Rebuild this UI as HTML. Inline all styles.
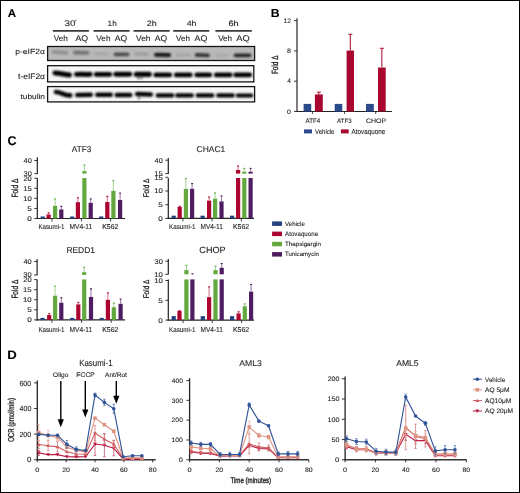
<!DOCTYPE html>
<html><head><meta charset="utf-8"><style>
html,body{margin:0;padding:0;background:#fff;overflow:hidden;width:520px;height:493px;}
svg{display:block;will-change:transform;}
text{font-family:"Liberation Sans", sans-serif;stroke:#1e1e1e;stroke-width:0.1px;text-rendering:geometricPrecision;}
</style></head><body>
<svg width="520" height="493" viewBox="0 0 520 493">
<rect x="0.5" y="0.5" width="519" height="492" fill="#fff" stroke="#000" stroke-width="1"/>
<text transform="translate(7.81,16.50) scale(1.030,1)" font-size="11.16" fill="#000" font-weight="bold">A</text>
<text transform="translate(270.80,16.80) scale(1.060,1)" font-size="11.59" fill="#000" font-weight="bold">B</text>
<text transform="translate(7.40,145.07) scale(0.988,1)" font-size="12.68" fill="#000" font-weight="bold">C</text>
<text transform="translate(7.14,358.80) scale(1.082,1)" font-size="12.17" fill="#000" font-weight="bold">D</text>
<text transform="translate(64.51,25.60) scale(1.183,1)" font-size="8.29" fill="#1e1e1e">30</text>
<path d="M76.1,19.7 L75.6,21.3" stroke="#555" stroke-width="0.9"/>
<text transform="translate(107.58,25.60) scale(1.068,1)" font-size="7.72" fill="#1e1e1e">1h</text>
<text transform="translate(146.75,25.60) scale(1.171,1)" font-size="7.72" fill="#1e1e1e">2h</text>
<text transform="translate(186.68,25.60) scale(1.142,1)" font-size="7.72" fill="#1e1e1e">4h</text>
<text transform="translate(228.44,25.60) scale(1.197,1)" font-size="7.72" fill="#1e1e1e">6h</text>
<line x1="52.90" y1="30.85" x2="88.90" y2="30.85" stroke="#3a3a3a" stroke-width="1.6" />
<line x1="93.50" y1="30.85" x2="129.60" y2="30.85" stroke="#3a3a3a" stroke-width="1.6" />
<line x1="133.50" y1="30.85" x2="169.60" y2="30.85" stroke="#3a3a3a" stroke-width="1.6" />
<line x1="173.20" y1="30.85" x2="209.30" y2="30.85" stroke="#3a3a3a" stroke-width="1.6" />
<line x1="215.40" y1="30.85" x2="251.80" y2="30.85" stroke="#3a3a3a" stroke-width="1.6" />
<text transform="translate(53.76,41.20) scale(1.038,1)" font-size="7.86" fill="#1e1e1e">Veh</text>
<text transform="translate(96.36,41.20) scale(1.038,1)" font-size="7.86" fill="#1e1e1e">Veh</text>
<text transform="translate(136.06,41.20) scale(1.061,1)" font-size="7.86" fill="#1e1e1e">Veh</text>
<text transform="translate(176.06,41.20) scale(1.022,1)" font-size="7.86" fill="#1e1e1e">Veh</text>
<text transform="translate(218.16,41.20) scale(1.030,1)" font-size="7.86" fill="#1e1e1e">Veh</text>
<text transform="translate(75.46,41.20) scale(1.078,1)" font-size="8.14" fill="#1e1e1e">AQ</text>
<text transform="translate(114.86,41.20) scale(1.060,1)" font-size="8.14" fill="#1e1e1e">AQ</text>
<text transform="translate(154.86,41.20) scale(1.060,1)" font-size="8.14" fill="#1e1e1e">AQ</text>
<text transform="translate(194.56,41.20) scale(1.087,1)" font-size="8.14" fill="#1e1e1e">AQ</text>
<text transform="translate(236.35,41.20) scale(1.149,1)" font-size="8.14" fill="#1e1e1e">AQ</text>
<text transform="translate(15.25,54.30) scale(1.127,1)" font-size="7.57" fill="#1e1e1e">p-eIF2α</text>
<text transform="translate(18.07,78.80) scale(1.072,1)" font-size="7.86" fill="#1e1e1e">t-eIF2α</text>
<text transform="translate(20.47,98.90) scale(1.141,1)" font-size="7.31" fill="#1e1e1e">tubulin</text>
<defs><filter id="bl" filterUnits="userSpaceOnUse" x="0" y="0" width="520" height="493"><feGaussianBlur stdDeviation="0.85"/></filter><filter id="bl2" filterUnits="userSpaceOnUse" x="0" y="0" width="520" height="493"><feGaussianBlur stdDeviation="1.05"/></filter></defs>
<rect x="47.60" y="46.50" width="207.00" height="14.00" fill="#b9b9b9" stroke="#141414" stroke-width="1.3"/>
<rect x="47.60" y="65.70" width="206.20" height="16.20" fill="#f6f6f6" stroke="#141414" stroke-width="1.3"/>
<rect x="47.60" y="86.60" width="207.00" height="15.30" fill="#f6f6f6" stroke="#141414" stroke-width="1.3"/>
<path d="M53.50,52.00 L66.50,52.80" stroke="#8e8e8e" stroke-width="3.6" stroke-linecap="round" fill="none" filter="url(#bl2)"/>
<path d="M75.00,52.50 L87.50,52.80" stroke="#727272" stroke-width="3.8" stroke-linecap="round" fill="none" filter="url(#bl2)"/>
<path d="M96.00,53.60 L107.00,53.80" stroke="#a6a6a6" stroke-width="3.2" stroke-linecap="round" fill="none" filter="url(#bl2)"/>
<path d="M115.50,54.30 L127.50,54.30" stroke="#4c4c4c" stroke-width="3.8" stroke-linecap="round" fill="none" filter="url(#bl2)"/>
<path d="M136.00,54.00 L147.00,54.20" stroke="#9e9e9e" stroke-width="3.4" stroke-linecap="round" fill="none" filter="url(#bl2)"/>
<path d="M156.00,54.80 L169.00,54.90" stroke="#121212" stroke-width="4.0" stroke-linecap="round" fill="none" filter="url(#bl2)"/>
<path d="M177.50,55.00 L189.50,55.00" stroke="#a4a4a4" stroke-width="3.2" stroke-linecap="round" fill="none" filter="url(#bl2)"/>
<path d="M196.50,54.80 L208.00,55.30" stroke="#343434" stroke-width="3.8" stroke-linecap="round" fill="none" filter="url(#bl2)"/>
<path d="M216.50,55.20 L227.50,55.20" stroke="#a8a8a8" stroke-width="3.0" stroke-linecap="round" fill="none" filter="url(#bl2)"/>
<path d="M235.50,55.40 L249.50,55.40" stroke="#282828" stroke-width="3.6" stroke-linecap="round" fill="none" filter="url(#bl2)"/>
<path d="M55.0,73.0 C60,72.8 63,75.0 69.4,74.9" stroke="#050505" stroke-width="5.1" stroke-linecap="round" fill="none" filter="url(#bl)"/>
<path d="M76.4,74.4 C81,73.8 85,74.8 90.1,74.3" stroke="#050505" stroke-width="4.9" stroke-linecap="round" fill="none" filter="url(#bl)"/>
<path d="M96.20,74.40 L109.80,74.40" stroke="#050505" stroke-width="4.8999999999999995" stroke-linecap="round" fill="none" filter="url(#bl)"/>
<path d="M115.70,74.30 L129.80,74.30" stroke="#050505" stroke-width="4.8999999999999995" stroke-linecap="round" fill="none" filter="url(#bl)"/>
<path d="M136.20,74.20 L149.30,74.40" stroke="#050505" stroke-width="5.1" stroke-linecap="round" fill="none" filter="url(#bl)"/>
<path d="M155.70,74.90 L169.80,74.90" stroke="#050505" stroke-width="4.7" stroke-linecap="round" fill="none" filter="url(#bl)"/>
<path d="M176.20,74.90 L190.30,74.90" stroke="#050505" stroke-width="4.7" stroke-linecap="round" fill="none" filter="url(#bl)"/>
<path d="M196.70,74.90 L209.80,74.90" stroke="#050505" stroke-width="4.7" stroke-linecap="round" fill="none" filter="url(#bl)"/>
<path d="M216.20,74.90 L230.30,74.90" stroke="#050505" stroke-width="4.7" stroke-linecap="round" fill="none" filter="url(#bl)"/>
<path d="M235.70,74.90 L249.80,74.90" stroke="#050505" stroke-width="4.7" stroke-linecap="round" fill="none" filter="url(#bl)"/>
<path d="M56.0,92.0 C61,92.0 64,95.6 70.3,95.4" stroke="#050505" stroke-width="4.6" stroke-linecap="round" fill="none" filter="url(#bl)"/>
<path d="M77.20,95.00 L90.80,94.80" stroke="#050505" stroke-width="4.4" stroke-linecap="round" fill="none" filter="url(#bl)"/>
<path d="M97.20,94.80 L110.80,94.80" stroke="#050505" stroke-width="4.4" stroke-linecap="round" fill="none" filter="url(#bl)"/>
<path d="M116.70,95.00 L130.30,95.00" stroke="#050505" stroke-width="4.4" stroke-linecap="round" fill="none" filter="url(#bl)"/>
<path d="M137.20,94.00 L150.80,94.50" stroke="#050505" stroke-width="4.6000000000000005" stroke-linecap="round" fill="none" filter="url(#bl)"/>
<path d="M157.70,95.40 L172.30,95.40" stroke="#050505" stroke-width="4.2" stroke-linecap="round" fill="none" filter="url(#bl)"/>
<path d="M177.20,95.40 L191.80,95.40" stroke="#050505" stroke-width="4.2" stroke-linecap="round" fill="none" filter="url(#bl)"/>
<path d="M197.70,95.40 L212.30,95.40" stroke="#050505" stroke-width="4.2" stroke-linecap="round" fill="none" filter="url(#bl)"/>
<path d="M218.20,95.40 L232.80,95.40" stroke="#050505" stroke-width="4.2" stroke-linecap="round" fill="none" filter="url(#bl)"/>
<path d="M237.70,95.40 L251.30,95.40" stroke="#050505" stroke-width="4.0" stroke-linecap="round" fill="none" filter="url(#bl)"/>
<path d="M138.5,75 l0,4.5 M141.5,75 l0,4 M139,95 l0,4.5" stroke="#222" stroke-width="1.1" filter="url(#bl)"/>
<line x1="297.00" y1="18.20" x2="297.00" y2="111.95" stroke="#383838" stroke-width="1.3" />
<line x1="296.40" y1="111.45" x2="392.00" y2="111.45" stroke="#222" stroke-width="1.1" />
<line x1="294.00" y1="111.45" x2="297.00" y2="111.45" stroke="#333" stroke-width="1.0" />
<text transform="translate(287.12,113.70) scale(1.081,1)" font-size="6.43" fill="#1e1e1e">0</text>
<line x1="294.00" y1="81.19" x2="297.00" y2="81.19" stroke="#333" stroke-width="1.0" />
<text transform="translate(287.23,83.44) scale(1.012,1)" font-size="6.52" fill="#1e1e1e">4</text>
<line x1="294.00" y1="50.93" x2="297.00" y2="50.93" stroke="#333" stroke-width="1.0" />
<text transform="translate(287.08,53.18) scale(1.092,1)" font-size="6.43" fill="#1e1e1e">8</text>
<line x1="294.00" y1="20.67" x2="297.00" y2="20.67" stroke="#333" stroke-width="1.0" />
<text transform="translate(283.60,22.92) scale(1.042,1)" font-size="6.43" fill="#1e1e1e">12</text>
<text transform="translate(277.90,74.11) rotate(-90) scale(0.717,1)" font-size="8.97" fill="#1e1e1e" style="stroke-width:0.3px">Fold Δ</text>
<rect x="303.60" y="103.89" width="7.60" height="7.57" fill="#2b4a8c" />
<rect x="314.90" y="94.43" width="7.90" height="17.02" fill="#a8072f" />
<line x1="318.85" y1="94.43" x2="318.85" y2="92.16" stroke="#a8072f" stroke-width="1.0" />
<line x1="316.85" y1="92.16" x2="320.85" y2="92.16" stroke="#a8072f" stroke-width="1.0" />
<rect x="334.70" y="103.89" width="7.60" height="7.57" fill="#2b4a8c" />
<rect x="346.60" y="50.55" width="7.40" height="60.90" fill="#a8072f" />
<line x1="350.30" y1="50.55" x2="350.30" y2="34.29" stroke="#a8072f" stroke-width="1.0" />
<line x1="348.30" y1="34.29" x2="352.30" y2="34.29" stroke="#a8072f" stroke-width="1.0" />
<rect x="366.00" y="103.89" width="7.80" height="7.57" fill="#2b4a8c" />
<rect x="378.00" y="67.57" width="7.70" height="43.88" fill="#a8072f" />
<line x1="381.85" y1="67.57" x2="381.85" y2="48.28" stroke="#a8072f" stroke-width="1.0" />
<line x1="379.85" y1="48.28" x2="383.85" y2="48.28" stroke="#a8072f" stroke-width="1.0" />
<line x1="312.60" y1="111.45" x2="312.60" y2="113.95" stroke="#333" stroke-width="0.9" />
<line x1="344.60" y1="111.45" x2="344.60" y2="113.95" stroke="#333" stroke-width="0.9" />
<line x1="375.70" y1="111.45" x2="375.70" y2="113.95" stroke="#333" stroke-width="0.9" />
<text transform="translate(305.57,123.10) scale(0.960,1)" font-size="6.38" fill="#1e1e1e">ATF4</text>
<text transform="translate(336.97,123.10) scale(0.981,1)" font-size="6.29" fill="#1e1e1e">ATF3</text>
<text transform="translate(365.95,123.14) scale(1.075,1)" font-size="6.48" fill="#1e1e1e">CHOP</text>
<rect x="304.00" y="129.40" width="8.00" height="4.00" fill="#2b4a8c" />
<text transform="translate(314.97,133.50) scale(0.877,1)" font-size="6.90" fill="#1e1e1e">Vehicle</text>
<rect x="340.90" y="129.40" width="7.80" height="4.00" fill="#a8072f" />
<text transform="translate(351.57,133.50) scale(0.867,1)" font-size="7.25" fill="#1e1e1e">Atovaquone</text>
<text transform="translate(71.76,151.80) scale(0.977,1)" font-size="8.43" fill="#1e1e1e">ATF3</text>
<line x1="37.30" y1="178.10" x2="37.30" y2="219.00" stroke="#222" stroke-width="1.2" />
<line x1="37.30" y1="157.30" x2="37.30" y2="173.90" stroke="#222" stroke-width="1.2" />
<line x1="34.30" y1="218.50" x2="37.30" y2="218.50" stroke="#222" stroke-width="0.9" />
<text transform="translate(27.33,220.90) scale(1.182,1)" font-size="6.86" fill="#1e1e1e">0</text>
<line x1="34.30" y1="208.43" x2="37.30" y2="208.43" stroke="#222" stroke-width="0.9" />
<text transform="translate(27.33,210.83) scale(1.165,1)" font-size="6.96" fill="#1e1e1e">5</text>
<line x1="34.30" y1="198.35" x2="37.30" y2="198.35" stroke="#222" stroke-width="0.9" />
<text transform="translate(23.22,200.75) scale(1.129,1)" font-size="6.86" fill="#1e1e1e">10</text>
<line x1="34.30" y1="188.28" x2="37.30" y2="188.28" stroke="#222" stroke-width="0.9" />
<text transform="translate(23.22,190.68) scale(1.112,1)" font-size="6.96" fill="#1e1e1e">15</text>
<line x1="34.30" y1="178.20" x2="37.30" y2="178.20" stroke="#222" stroke-width="0.9" />
<text transform="translate(23.42,180.60) scale(1.101,1)" font-size="6.86" fill="#1e1e1e">20</text>
<line x1="34.30" y1="160.50" x2="37.30" y2="160.50" stroke="#222" stroke-width="0.9" />
<text transform="translate(23.62,162.90) scale(1.075,1)" font-size="6.86" fill="#1e1e1e">40</text>
<line x1="34.30" y1="173.70" x2="37.30" y2="173.70" stroke="#222" stroke-width="0.9" />
<text transform="translate(23.50,176.10) scale(1.090,1)" font-size="6.86" fill="#1e1e1e">30</text>
<line x1="36.70" y1="218.50" x2="125.00" y2="218.50" stroke="#222" stroke-width="1.2" />
<rect x="40.60" y="216.49" width="4.20" height="2.02" fill="#23417f" />
<rect x="46.50" y="214.47" width="4.20" height="4.03" fill="#ab0530" />
<line x1="48.60" y1="214.47" x2="48.60" y2="212.86" stroke="#d35c7a" stroke-width="0.9" />
<line x1="47.60" y1="212.86" x2="49.60" y2="212.86" stroke="#ab0530" stroke-width="1.1" />
<rect x="53.00" y="205.81" width="4.20" height="12.69" fill="#63a83e" />
<line x1="55.10" y1="205.81" x2="55.10" y2="198.95" stroke="#9ccf88" stroke-width="0.9" />
<line x1="54.10" y1="198.95" x2="56.10" y2="198.95" stroke="#63a83e" stroke-width="1.1" />
<rect x="59.20" y="209.43" width="4.20" height="9.07" fill="#4d1d60" />
<line x1="61.30" y1="209.43" x2="61.30" y2="206.41" stroke="#8a6296" stroke-width="0.9" />
<line x1="60.30" y1="206.41" x2="62.30" y2="206.41" stroke="#4d1d60" stroke-width="1.1" />
<rect x="70.10" y="216.49" width="4.20" height="2.02" fill="#23417f" />
<rect x="75.80" y="202.18" width="4.20" height="16.32" fill="#ab0530" />
<line x1="77.90" y1="202.18" x2="77.90" y2="197.75" stroke="#d35c7a" stroke-width="0.9" />
<line x1="76.90" y1="197.75" x2="78.90" y2="197.75" stroke="#ab0530" stroke-width="1.1" />
<rect x="82.30" y="178.10" width="4.20" height="40.40" fill="#63a83e" />
<rect x="82.30" y="171.10" width="4.20" height="2.50" fill="#63a83e" />
<line x1="84.40" y1="171.10" x2="84.40" y2="165.00" stroke="#9ccf88" stroke-width="0.9" />
<line x1="83.40" y1="165.00" x2="85.40" y2="165.00" stroke="#63a83e" stroke-width="1.1" />
<rect x="88.60" y="202.78" width="4.20" height="15.72" fill="#4d1d60" />
<line x1="90.70" y1="202.78" x2="90.70" y2="198.95" stroke="#8a6296" stroke-width="0.9" />
<line x1="89.70" y1="198.95" x2="91.70" y2="198.95" stroke="#4d1d60" stroke-width="1.1" />
<rect x="99.10" y="216.49" width="4.20" height="2.02" fill="#23417f" />
<rect x="105.20" y="201.98" width="4.20" height="16.52" fill="#ab0530" />
<line x1="107.30" y1="201.98" x2="107.30" y2="196.34" stroke="#d35c7a" stroke-width="0.9" />
<line x1="106.30" y1="196.34" x2="108.30" y2="196.34" stroke="#ab0530" stroke-width="1.1" />
<rect x="111.30" y="190.89" width="4.20" height="27.61" fill="#63a83e" />
<line x1="113.40" y1="190.89" x2="113.40" y2="180.62" stroke="#9ccf88" stroke-width="0.9" />
<line x1="112.40" y1="180.62" x2="114.40" y2="180.62" stroke="#63a83e" stroke-width="1.1" />
<rect x="118.00" y="199.96" width="4.20" height="18.54" fill="#4d1d60" />
<line x1="120.10" y1="199.96" x2="120.10" y2="193.11" stroke="#8a6296" stroke-width="0.9" />
<line x1="119.10" y1="193.11" x2="121.10" y2="193.11" stroke="#4d1d60" stroke-width="1.1" />
<line x1="52.00" y1="218.50" x2="52.00" y2="221.50" stroke="#333" stroke-width="0.9" />
<line x1="81.45" y1="218.50" x2="81.45" y2="221.50" stroke="#333" stroke-width="0.9" />
<line x1="110.65" y1="218.50" x2="110.65" y2="221.50" stroke="#333" stroke-width="0.9" />
<text transform="translate(38.40,228.80) scale(0.899,1)" font-size="6.90" fill="#1e1e1e">Kasumi-1</text>
<text transform="translate(69.47,228.80) scale(0.917,1)" font-size="7.25" fill="#1e1e1e">MV4-11</text>
<text transform="translate(102.14,228.80) scale(0.978,1)" font-size="7.14" fill="#1e1e1e">K562</text>
<text transform="translate(18.20,197.52) rotate(-90) scale(0.718,1)" font-size="9.10" fill="#1e1e1e" style="stroke-width:0.3px">Fold Δ</text>
<text transform="translate(196.58,152.00) scale(1.006,1)" font-size="8.43" fill="#1e1e1e">CHAC1</text>
<line x1="168.30" y1="178.00" x2="168.30" y2="218.90" stroke="#222" stroke-width="1.2" />
<line x1="168.30" y1="158.10" x2="168.30" y2="173.90" stroke="#222" stroke-width="1.2" />
<line x1="165.30" y1="218.40" x2="168.30" y2="218.40" stroke="#222" stroke-width="0.9" />
<text transform="translate(158.33,220.80) scale(1.182,1)" font-size="6.86" fill="#1e1e1e">0</text>
<line x1="165.30" y1="204.70" x2="168.30" y2="204.70" stroke="#222" stroke-width="0.9" />
<text transform="translate(158.33,207.10) scale(1.165,1)" font-size="6.96" fill="#1e1e1e">5</text>
<line x1="165.30" y1="191.00" x2="168.30" y2="191.00" stroke="#222" stroke-width="0.9" />
<text transform="translate(154.22,193.40) scale(1.129,1)" font-size="6.86" fill="#1e1e1e">10</text>
<line x1="165.30" y1="177.30" x2="168.30" y2="177.30" stroke="#222" stroke-width="0.9" />
<text transform="translate(154.22,179.70) scale(1.112,1)" font-size="6.96" fill="#1e1e1e">15</text>
<line x1="165.30" y1="160.20" x2="168.30" y2="160.20" stroke="#222" stroke-width="0.9" />
<text transform="translate(154.62,162.60) scale(1.075,1)" font-size="6.86" fill="#1e1e1e">40</text>
<line x1="165.30" y1="173.60" x2="168.30" y2="173.60" stroke="#222" stroke-width="0.9" />
<text transform="translate(154.22,176.00) scale(1.112,1)" font-size="6.96" fill="#1e1e1e">15</text>
<line x1="167.70" y1="218.40" x2="254.00" y2="218.40" stroke="#222" stroke-width="1.2" />
<rect x="171.60" y="215.66" width="4.20" height="2.74" fill="#23417f" />
<rect x="177.60" y="206.89" width="4.20" height="11.51" fill="#ab0530" />
<line x1="179.70" y1="206.89" x2="179.70" y2="206.34" stroke="#d35c7a" stroke-width="0.9" />
<line x1="178.70" y1="206.34" x2="180.70" y2="206.34" stroke="#ab0530" stroke-width="1.1" />
<rect x="183.80" y="188.81" width="4.20" height="29.59" fill="#63a83e" />
<line x1="185.90" y1="188.81" x2="185.90" y2="178.67" stroke="#9ccf88" stroke-width="0.9" />
<line x1="184.90" y1="178.67" x2="186.90" y2="178.67" stroke="#63a83e" stroke-width="1.1" />
<rect x="190.00" y="188.81" width="4.20" height="29.59" fill="#4d1d60" />
<line x1="192.10" y1="188.81" x2="192.10" y2="183.60" stroke="#8a6296" stroke-width="0.9" />
<line x1="191.10" y1="183.60" x2="193.10" y2="183.60" stroke="#4d1d60" stroke-width="1.1" />
<rect x="200.50" y="215.66" width="4.20" height="2.74" fill="#23417f" />
<rect x="207.00" y="200.59" width="4.20" height="17.81" fill="#ab0530" />
<line x1="209.10" y1="200.59" x2="209.10" y2="197.03" stroke="#d35c7a" stroke-width="0.9" />
<line x1="208.10" y1="197.03" x2="210.10" y2="197.03" stroke="#ab0530" stroke-width="1.1" />
<rect x="213.00" y="198.67" width="4.20" height="19.73" fill="#63a83e" />
<line x1="215.10" y1="198.67" x2="215.10" y2="192.92" stroke="#9ccf88" stroke-width="0.9" />
<line x1="214.10" y1="192.92" x2="216.10" y2="192.92" stroke="#63a83e" stroke-width="1.1" />
<rect x="219.40" y="201.41" width="4.20" height="16.99" fill="#4d1d60" />
<line x1="221.50" y1="201.41" x2="221.50" y2="195.93" stroke="#8a6296" stroke-width="0.9" />
<line x1="220.50" y1="195.93" x2="222.50" y2="195.93" stroke="#4d1d60" stroke-width="1.1" />
<rect x="230.00" y="215.66" width="4.20" height="2.74" fill="#23417f" />
<rect x="236.00" y="178.00" width="4.20" height="40.40" fill="#ab0530" />
<rect x="236.00" y="170.00" width="4.20" height="3.60" fill="#ab0530" />
<line x1="238.10" y1="170.00" x2="238.10" y2="166.00" stroke="#d35c7a" stroke-width="0.9" />
<line x1="237.10" y1="166.00" x2="239.10" y2="166.00" stroke="#ab0530" stroke-width="1.1" />
<rect x="242.20" y="178.00" width="4.20" height="40.40" fill="#63a83e" />
<rect x="242.20" y="171.70" width="4.20" height="1.90" fill="#63a83e" />
<line x1="244.30" y1="171.70" x2="244.30" y2="168.40" stroke="#9ccf88" stroke-width="0.9" />
<line x1="243.30" y1="168.40" x2="245.30" y2="168.40" stroke="#63a83e" stroke-width="1.1" />
<rect x="248.50" y="178.00" width="4.20" height="40.40" fill="#4d1d60" />
<rect x="248.50" y="171.70" width="4.20" height="1.90" fill="#4d1d60" />
<line x1="250.60" y1="171.70" x2="250.60" y2="168.40" stroke="#8a6296" stroke-width="0.9" />
<line x1="249.60" y1="168.40" x2="251.60" y2="168.40" stroke="#4d1d60" stroke-width="1.1" />
<line x1="182.90" y1="218.40" x2="182.90" y2="221.40" stroke="#333" stroke-width="0.9" />
<line x1="212.05" y1="218.40" x2="212.05" y2="221.40" stroke="#333" stroke-width="0.9" />
<line x1="241.35" y1="218.40" x2="241.35" y2="221.40" stroke="#333" stroke-width="0.9" />
<text transform="translate(169.10,228.80) scale(0.906,1)" font-size="6.90" fill="#1e1e1e">Kasumi-1</text>
<text transform="translate(200.48,228.80) scale(0.900,1)" font-size="7.25" fill="#1e1e1e">MV4-11</text>
<text transform="translate(232.94,228.80) scale(0.971,1)" font-size="7.14" fill="#1e1e1e">K562</text>
<text transform="translate(149.40,197.32) rotate(-90) scale(0.781,1)" font-size="8.28" fill="#1e1e1e" style="stroke-width:0.3px">Fold Δ</text>
<text transform="translate(66.43,252.70) scale(0.983,1)" font-size="8.55" fill="#1e1e1e">REDD1</text>
<line x1="37.10" y1="279.50" x2="37.10" y2="320.40" stroke="#222" stroke-width="1.2" />
<line x1="37.10" y1="259.10" x2="37.10" y2="275.20" stroke="#222" stroke-width="1.2" />
<line x1="34.10" y1="319.90" x2="37.10" y2="319.90" stroke="#222" stroke-width="0.9" />
<text transform="translate(27.13,322.30) scale(1.182,1)" font-size="6.86" fill="#1e1e1e">0</text>
<line x1="34.10" y1="309.82" x2="37.10" y2="309.82" stroke="#222" stroke-width="0.9" />
<text transform="translate(27.13,312.22) scale(1.165,1)" font-size="6.96" fill="#1e1e1e">5</text>
<line x1="34.10" y1="299.75" x2="37.10" y2="299.75" stroke="#222" stroke-width="0.9" />
<text transform="translate(23.02,302.15) scale(1.129,1)" font-size="6.86" fill="#1e1e1e">10</text>
<line x1="34.10" y1="289.67" x2="37.10" y2="289.67" stroke="#222" stroke-width="0.9" />
<text transform="translate(23.02,292.07) scale(1.112,1)" font-size="6.96" fill="#1e1e1e">15</text>
<line x1="34.10" y1="279.60" x2="37.10" y2="279.60" stroke="#222" stroke-width="0.9" />
<text transform="translate(23.22,282.00) scale(1.101,1)" font-size="6.86" fill="#1e1e1e">20</text>
<line x1="34.10" y1="261.50" x2="37.10" y2="261.50" stroke="#222" stroke-width="0.9" />
<text transform="translate(23.42,263.90) scale(1.075,1)" font-size="6.86" fill="#1e1e1e">40</text>
<line x1="34.10" y1="275.00" x2="37.10" y2="275.00" stroke="#222" stroke-width="0.9" />
<text transform="translate(23.30,277.40) scale(1.090,1)" font-size="6.86" fill="#1e1e1e">30</text>
<line x1="36.50" y1="319.90" x2="125.00" y2="319.90" stroke="#222" stroke-width="1.2" />
<rect x="40.40" y="317.88" width="4.20" height="2.02" fill="#23417f" />
<rect x="47.10" y="315.06" width="4.20" height="4.84" fill="#ab0530" />
<line x1="49.20" y1="315.06" x2="49.20" y2="313.65" stroke="#d35c7a" stroke-width="0.9" />
<line x1="48.20" y1="313.65" x2="50.20" y2="313.65" stroke="#ab0530" stroke-width="1.1" />
<rect x="53.00" y="295.72" width="4.20" height="24.18" fill="#63a83e" />
<line x1="55.10" y1="295.72" x2="55.10" y2="286.25" stroke="#9ccf88" stroke-width="0.9" />
<line x1="54.10" y1="286.25" x2="56.10" y2="286.25" stroke="#63a83e" stroke-width="1.1" />
<rect x="59.20" y="302.77" width="4.20" height="17.13" fill="#4d1d60" />
<line x1="61.30" y1="302.77" x2="61.30" y2="297.73" stroke="#8a6296" stroke-width="0.9" />
<line x1="60.30" y1="297.73" x2="62.30" y2="297.73" stroke="#4d1d60" stroke-width="1.1" />
<rect x="70.00" y="317.88" width="4.20" height="2.02" fill="#23417f" />
<rect x="76.20" y="304.38" width="4.20" height="15.52" fill="#ab0530" />
<line x1="78.30" y1="304.38" x2="78.30" y2="302.37" stroke="#d35c7a" stroke-width="0.9" />
<line x1="77.30" y1="302.37" x2="79.30" y2="302.37" stroke="#ab0530" stroke-width="1.1" />
<rect x="82.10" y="279.50" width="4.20" height="40.40" fill="#63a83e" />
<rect x="82.10" y="272.20" width="4.20" height="2.70" fill="#63a83e" />
<line x1="84.20" y1="272.20" x2="84.20" y2="267.30" stroke="#9ccf88" stroke-width="0.9" />
<line x1="83.20" y1="267.30" x2="85.20" y2="267.30" stroke="#63a83e" stroke-width="1.1" />
<rect x="88.90" y="296.93" width="4.20" height="22.97" fill="#4d1d60" />
<line x1="91.00" y1="296.93" x2="91.00" y2="288.87" stroke="#8a6296" stroke-width="0.9" />
<line x1="90.00" y1="288.87" x2="92.00" y2="288.87" stroke="#4d1d60" stroke-width="1.1" />
<rect x="99.60" y="317.88" width="4.20" height="2.02" fill="#23417f" />
<rect x="105.80" y="299.75" width="4.20" height="20.15" fill="#ab0530" />
<line x1="107.90" y1="299.75" x2="107.90" y2="292.90" stroke="#d35c7a" stroke-width="0.9" />
<line x1="106.90" y1="292.90" x2="108.90" y2="292.90" stroke="#ab0530" stroke-width="1.1" />
<rect x="111.70" y="307.21" width="4.20" height="12.69" fill="#63a83e" />
<line x1="113.80" y1="307.21" x2="113.80" y2="303.18" stroke="#9ccf88" stroke-width="0.9" />
<line x1="112.80" y1="303.18" x2="114.80" y2="303.18" stroke="#63a83e" stroke-width="1.1" />
<rect x="118.50" y="303.78" width="4.20" height="16.12" fill="#4d1d60" />
<line x1="120.60" y1="303.78" x2="120.60" y2="299.15" stroke="#8a6296" stroke-width="0.9" />
<line x1="119.60" y1="299.15" x2="121.60" y2="299.15" stroke="#4d1d60" stroke-width="1.1" />
<line x1="51.90" y1="319.90" x2="51.90" y2="322.90" stroke="#333" stroke-width="0.9" />
<line x1="81.55" y1="319.90" x2="81.55" y2="322.90" stroke="#333" stroke-width="0.9" />
<line x1="111.15" y1="319.90" x2="111.15" y2="322.90" stroke="#333" stroke-width="0.9" />
<text transform="translate(38.40,332.20) scale(0.899,1)" font-size="6.90" fill="#1e1e1e">Kasumi-1</text>
<text transform="translate(69.47,332.20) scale(0.917,1)" font-size="7.25" fill="#1e1e1e">MV4-11</text>
<text transform="translate(102.14,332.20) scale(0.978,1)" font-size="7.14" fill="#1e1e1e">K562</text>
<text transform="translate(18.00,298.62) rotate(-90) scale(0.718,1)" font-size="9.10" fill="#1e1e1e" style="stroke-width:0.3px">Fold Δ</text>
<text transform="translate(199.35,253.01) scale(1.008,1)" font-size="9.01" fill="#1e1e1e">CHOP</text>
<line x1="168.30" y1="279.40" x2="168.30" y2="320.60" stroke="#222" stroke-width="1.2" />
<line x1="168.30" y1="259.10" x2="168.30" y2="274.60" stroke="#222" stroke-width="1.2" />
<line x1="165.30" y1="320.10" x2="168.30" y2="320.10" stroke="#222" stroke-width="0.9" />
<text transform="translate(158.33,322.50) scale(1.182,1)" font-size="6.86" fill="#1e1e1e">0</text>
<line x1="165.30" y1="300.30" x2="168.30" y2="300.30" stroke="#222" stroke-width="0.9" />
<text transform="translate(158.33,302.70) scale(1.165,1)" font-size="6.96" fill="#1e1e1e">5</text>
<line x1="165.30" y1="280.50" x2="168.30" y2="280.50" stroke="#222" stroke-width="0.9" />
<text transform="translate(154.22,282.90) scale(1.129,1)" font-size="6.86" fill="#1e1e1e">10</text>
<line x1="165.30" y1="261.20" x2="168.30" y2="261.20" stroke="#222" stroke-width="0.9" />
<text transform="translate(154.50,263.60) scale(1.090,1)" font-size="6.86" fill="#1e1e1e">30</text>
<line x1="165.30" y1="274.30" x2="168.30" y2="274.30" stroke="#222" stroke-width="0.9" />
<text transform="translate(154.22,276.70) scale(1.129,1)" font-size="6.86" fill="#1e1e1e">10</text>
<line x1="167.70" y1="320.10" x2="254.00" y2="320.10" stroke="#222" stroke-width="1.2" />
<rect x="171.60" y="316.14" width="4.20" height="3.96" fill="#23417f" />
<rect x="177.40" y="310.99" width="4.20" height="9.11" fill="#ab0530" />
<line x1="179.50" y1="310.99" x2="179.50" y2="310.60" stroke="#d35c7a" stroke-width="0.9" />
<line x1="178.50" y1="310.60" x2="180.50" y2="310.60" stroke="#ab0530" stroke-width="1.1" />
<rect x="184.30" y="279.40" width="4.20" height="40.70" fill="#63a83e" />
<rect x="184.30" y="270.10" width="4.20" height="4.20" fill="#63a83e" />
<line x1="186.40" y1="270.10" x2="186.40" y2="265.30" stroke="#9ccf88" stroke-width="0.9" />
<line x1="185.40" y1="265.30" x2="187.40" y2="265.30" stroke="#63a83e" stroke-width="1.1" />
<rect x="190.30" y="279.40" width="4.20" height="40.70" fill="#4d1d60" />
<line x1="192.40" y1="274.60" x2="192.40" y2="273.80" stroke="#8a6296" stroke-width="0.9" />
<line x1="191.40" y1="273.80" x2="193.40" y2="273.80" stroke="#4d1d60" stroke-width="1.1" />
<rect x="200.70" y="316.14" width="4.20" height="3.96" fill="#23417f" />
<rect x="207.00" y="297.13" width="4.20" height="22.97" fill="#ab0530" />
<line x1="209.10" y1="297.13" x2="209.10" y2="286.84" stroke="#d35c7a" stroke-width="0.9" />
<line x1="208.10" y1="286.84" x2="210.10" y2="286.84" stroke="#ab0530" stroke-width="1.1" />
<rect x="213.40" y="279.40" width="4.20" height="40.70" fill="#63a83e" />
<rect x="213.40" y="270.10" width="4.20" height="4.20" fill="#63a83e" />
<line x1="215.50" y1="270.10" x2="215.50" y2="266.20" stroke="#9ccf88" stroke-width="0.9" />
<line x1="214.50" y1="266.20" x2="216.50" y2="266.20" stroke="#63a83e" stroke-width="1.1" />
<rect x="219.60" y="279.40" width="4.20" height="40.70" fill="#4d1d60" />
<rect x="219.60" y="267.80" width="4.20" height="6.50" fill="#4d1d60" />
<line x1="221.70" y1="267.80" x2="221.70" y2="263.50" stroke="#8a6296" stroke-width="0.9" />
<line x1="220.70" y1="263.50" x2="222.70" y2="263.50" stroke="#4d1d60" stroke-width="1.1" />
<rect x="230.00" y="316.14" width="4.20" height="3.96" fill="#23417f" />
<rect x="236.50" y="313.37" width="4.20" height="6.73" fill="#ab0530" />
<line x1="238.60" y1="313.37" x2="238.60" y2="311.78" stroke="#d35c7a" stroke-width="0.9" />
<line x1="237.60" y1="311.78" x2="239.60" y2="311.78" stroke="#ab0530" stroke-width="1.1" />
<rect x="242.70" y="306.24" width="4.20" height="13.86" fill="#63a83e" />
<line x1="244.80" y1="306.24" x2="244.80" y2="303.86" stroke="#9ccf88" stroke-width="0.9" />
<line x1="243.80" y1="303.86" x2="245.80" y2="303.86" stroke="#63a83e" stroke-width="1.1" />
<rect x="249.00" y="291.59" width="4.20" height="28.51" fill="#4d1d60" />
<line x1="251.10" y1="291.59" x2="251.10" y2="284.46" stroke="#8a6296" stroke-width="0.9" />
<line x1="250.10" y1="284.46" x2="252.10" y2="284.46" stroke="#4d1d60" stroke-width="1.1" />
<line x1="183.05" y1="320.10" x2="183.05" y2="323.10" stroke="#333" stroke-width="0.9" />
<line x1="212.25" y1="320.10" x2="212.25" y2="323.10" stroke="#333" stroke-width="0.9" />
<line x1="241.60" y1="320.10" x2="241.60" y2="323.10" stroke="#333" stroke-width="0.9" />
<text transform="translate(169.10,332.20) scale(0.906,1)" font-size="6.90" fill="#1e1e1e">Kasumi-1</text>
<text transform="translate(200.48,332.20) scale(0.900,1)" font-size="7.25" fill="#1e1e1e">MV4-11</text>
<text transform="translate(232.94,332.20) scale(0.971,1)" font-size="7.14" fill="#1e1e1e">K562</text>
<text transform="translate(149.40,298.32) rotate(-90) scale(0.781,1)" font-size="8.28" fill="#1e1e1e" style="stroke-width:0.3px">Fold Δ</text>
<rect x="272.10" y="221.40" width="9.90" height="4.50" fill="#23417f" />
<text transform="translate(285.07,225.70) scale(0.990,1)" font-size="6.21" fill="#1e1e1e">Vehicle</text>
<rect x="272.10" y="231.60" width="9.90" height="4.50" fill="#ab0530" />
<text transform="translate(285.07,236.10) scale(0.949,1)" font-size="6.52" fill="#1e1e1e">Atovaquone</text>
<rect x="272.10" y="241.80" width="9.90" height="4.50" fill="#63a83e" />
<text transform="translate(284.94,246.20) scale(1.028,1)" font-size="6.07" fill="#1e1e1e">Thapsigargin</text>
<rect x="272.10" y="252.10" width="9.90" height="4.50" fill="#4d1d60" />
<text transform="translate(284.95,256.40) scale(1.006,1)" font-size="6.07" fill="#1e1e1e">Tunicamycin</text>
<text transform="translate(79.17,365.90) scale(0.896,1)" font-size="8.83" fill="#1e1e1e">Kasumi-1</text>
<line x1="37.30" y1="380.60" x2="37.30" y2="460.30" stroke="#222" stroke-width="1.3" />
<line x1="36.70" y1="459.80" x2="155.70" y2="459.80" stroke="#333" stroke-width="1.6" />
<line x1="34.10" y1="459.80" x2="37.30" y2="459.80" stroke="#333" stroke-width="1.0" />
<text transform="translate(26.93,462.40) scale(1.063,1)" font-size="7.43" fill="#1e1e1e">0</text>
<line x1="34.10" y1="434.17" x2="37.30" y2="434.17" stroke="#333" stroke-width="1.0" />
<text transform="translate(19.39,436.77) scale(0.962,1)" font-size="7.43" fill="#1e1e1e">200</text>
<line x1="34.10" y1="408.53" x2="37.30" y2="408.53" stroke="#333" stroke-width="1.0" />
<text transform="translate(19.57,411.13) scale(0.947,1)" font-size="7.43" fill="#1e1e1e">400</text>
<line x1="34.10" y1="382.90" x2="37.30" y2="382.90" stroke="#333" stroke-width="1.0" />
<text transform="translate(19.39,385.50) scale(0.962,1)" font-size="7.43" fill="#1e1e1e">600</text>
<line x1="37.30" y1="459.80" x2="37.30" y2="462.30" stroke="#333" stroke-width="1.0" />
<text transform="translate(35.26,471.80) scale(1.146,1)" font-size="6.43" fill="#1e1e1e">0</text>
<line x1="66.15" y1="459.80" x2="66.15" y2="462.30" stroke="#333" stroke-width="1.0" />
<text transform="translate(62.25,471.80) scale(1.083,1)" font-size="6.43" fill="#1e1e1e">20</text>
<line x1="95.00" y1="459.80" x2="95.00" y2="462.30" stroke="#333" stroke-width="1.0" />
<text transform="translate(91.28,471.80) scale(1.057,1)" font-size="6.43" fill="#1e1e1e">40</text>
<line x1="123.85" y1="459.80" x2="123.85" y2="462.30" stroke="#333" stroke-width="1.0" />
<text transform="translate(119.95,471.80) scale(1.083,1)" font-size="6.43" fill="#1e1e1e">60</text>
<line x1="152.70" y1="459.80" x2="152.70" y2="462.30" stroke="#333" stroke-width="1.0" />
<text transform="translate(148.84,471.80) scale(1.078,1)" font-size="6.43" fill="#1e1e1e">80</text>
<path d="M38.74,452.88 L48.12,454.67 L57.49,454.67 L66.87,456.72 L76.25,456.85 L85.62,456.72 L95.00,444.04 L104.38,445.19 L113.75,448.14 L123.13,459.16 L132.50,459.16 L141.88,459.16" fill="none" stroke="#b8153f" stroke-width="1.1"/>
<path d="M38.74,450.32 L38.74,455.44 M37.44,450.32 L40.04,450.32 M37.44,455.44 L40.04,455.44" stroke="#c65070" stroke-width="0.8" fill="none"/>
<path d="M95.00,432.50 L95.00,455.57 M93.70,432.50 L96.30,432.50 M93.70,455.57 L96.30,455.57" stroke="#c65070" stroke-width="0.8" fill="none"/>
<path d="M104.38,433.65 L104.38,456.72 M103.08,433.65 L105.68,433.65 M103.08,456.72 L105.68,456.72" stroke="#c65070" stroke-width="0.8" fill="none"/>
<path d="M113.75,440.45 L113.75,455.83 M112.45,440.45 L115.05,440.45 M112.45,455.83 L115.05,455.83" stroke="#c65070" stroke-width="0.8" fill="none"/>
<path d="M38.74,454.78 L40.64,451.48 L36.84,451.48Z" fill="#b8153f"/>
<path d="M48.12,456.57 L50.02,453.27 L46.22,453.27Z" fill="#b8153f"/>
<path d="M57.49,456.57 L59.39,453.27 L55.59,453.27Z" fill="#b8153f"/>
<path d="M66.87,458.62 L68.77,455.32 L64.97,455.32Z" fill="#b8153f"/>
<path d="M76.25,458.75 L78.15,455.45 L74.35,455.45Z" fill="#b8153f"/>
<path d="M85.62,458.62 L87.52,455.32 L83.72,455.32Z" fill="#b8153f"/>
<path d="M95.00,445.94 L96.90,442.64 L93.10,442.64Z" fill="#b8153f"/>
<path d="M104.38,447.09 L106.28,443.79 L102.48,443.79Z" fill="#b8153f"/>
<path d="M113.75,450.04 L115.65,446.74 L111.85,446.74Z" fill="#b8153f"/>
<path d="M123.13,461.06 L125.03,457.76 L121.23,457.76Z" fill="#b8153f"/>
<path d="M132.50,461.06 L134.41,457.76 L130.60,457.76Z" fill="#b8153f"/>
<path d="M141.88,461.06 L143.78,457.76 L139.98,457.76Z" fill="#b8153f"/>
<path d="M38.74,444.55 L48.12,445.70 L57.49,446.86 L66.87,451.73 L76.25,454.03 L85.62,454.29 L95.00,433.14 L104.38,439.17 L113.75,444.04 L123.13,458.52 L132.50,458.52 L141.88,458.52" fill="none" stroke="#cf5d5f" stroke-width="1.1"/>
<path d="M38.74,440.70 L38.74,448.39 M37.44,440.70 L40.04,440.70 M37.44,448.39 L40.04,448.39" stroke="#d88080" stroke-width="0.8" fill="none"/>
<path d="M48.12,440.57 L48.12,450.83 M46.82,440.57 L49.42,440.57 M46.82,450.83 L49.42,450.83" stroke="#d88080" stroke-width="0.8" fill="none"/>
<path d="M57.49,441.73 L57.49,451.98 M56.20,441.73 L58.79,441.73 M56.20,451.98 L58.79,451.98" stroke="#d88080" stroke-width="0.8" fill="none"/>
<path d="M95.00,425.45 L95.00,440.83 M93.70,425.45 L96.30,425.45 M93.70,440.83 L96.30,440.83" stroke="#d88080" stroke-width="0.8" fill="none"/>
<path d="M104.38,434.04 L104.38,444.29 M103.08,434.04 L105.68,434.04 M103.08,444.29 L105.68,444.29" stroke="#d88080" stroke-width="0.8" fill="none"/>
<path d="M113.75,440.19 L113.75,447.88 M112.45,440.19 L115.05,440.19 M112.45,447.88 L115.05,447.88" stroke="#d88080" stroke-width="0.8" fill="none"/>
<path d="M38.74,442.65 L40.64,445.95 L36.84,445.95Z" fill="#cf5d5f"/>
<path d="M48.12,443.80 L50.02,447.10 L46.22,447.10Z" fill="#cf5d5f"/>
<path d="M57.49,444.96 L59.39,448.26 L55.59,448.26Z" fill="#cf5d5f"/>
<path d="M66.87,449.83 L68.77,453.13 L64.97,453.13Z" fill="#cf5d5f"/>
<path d="M76.25,452.13 L78.15,455.43 L74.35,455.43Z" fill="#cf5d5f"/>
<path d="M85.62,452.39 L87.52,455.69 L83.72,455.69Z" fill="#cf5d5f"/>
<path d="M95.00,431.24 L96.90,434.54 L93.10,434.54Z" fill="#cf5d5f"/>
<path d="M104.38,437.27 L106.28,440.57 L102.48,440.57Z" fill="#cf5d5f"/>
<path d="M113.75,442.14 L115.65,445.44 L111.85,445.44Z" fill="#cf5d5f"/>
<path d="M123.13,456.62 L125.03,459.92 L121.23,459.92Z" fill="#cf5d5f"/>
<path d="M132.50,456.62 L134.41,459.92 L130.60,459.92Z" fill="#cf5d5f"/>
<path d="M141.88,456.62 L143.78,459.92 L139.98,459.92Z" fill="#cf5d5f"/>
<path d="M38.74,432.63 L48.12,435.45 L57.49,437.37 L66.87,447.37 L76.25,450.32 L85.62,452.11 L95.00,418.15 L104.38,424.68 L113.75,431.22 L123.13,457.88 L132.50,457.88 L141.88,457.88" fill="none" stroke="#df9382" stroke-width="1.1"/>
<path d="M38.74,424.94 L38.74,440.32 M37.44,424.94 L40.04,424.94 M37.44,440.32 L40.04,440.32" stroke="#e8b0a0" stroke-width="0.8" fill="none"/>
<path d="M48.12,430.32 L48.12,440.57 M46.82,430.32 L49.42,430.32 M46.82,440.57 L49.42,440.57" stroke="#e8b0a0" stroke-width="0.8" fill="none"/>
<path d="M57.49,434.17 L57.49,440.57 M56.20,434.17 L58.79,434.17 M56.20,440.57 L58.79,440.57" stroke="#e8b0a0" stroke-width="0.8" fill="none"/>
<rect x="36.94" y="430.83" width="3.6" height="3.6" fill="#df9382"/>
<rect x="46.32" y="433.65" width="3.6" height="3.6" fill="#df9382"/>
<rect x="55.70" y="435.57" width="3.6" height="3.6" fill="#df9382"/>
<rect x="65.07" y="445.57" width="3.6" height="3.6" fill="#df9382"/>
<rect x="74.45" y="448.52" width="3.6" height="3.6" fill="#df9382"/>
<rect x="83.82" y="450.31" width="3.6" height="3.6" fill="#df9382"/>
<rect x="93.20" y="416.35" width="3.6" height="3.6" fill="#df9382"/>
<rect x="102.58" y="422.88" width="3.6" height="3.6" fill="#df9382"/>
<rect x="111.95" y="429.42" width="3.6" height="3.6" fill="#df9382"/>
<rect x="121.33" y="456.08" width="3.6" height="3.6" fill="#df9382"/>
<rect x="130.70" y="456.08" width="3.6" height="3.6" fill="#df9382"/>
<rect x="140.08" y="456.08" width="3.6" height="3.6" fill="#df9382"/>
<path d="M38.74,434.42 L48.12,435.32 L57.49,435.32 L66.87,444.29 L76.25,449.42 L85.62,450.57 L95.00,395.08 L104.38,402.38 L113.75,408.79 L123.13,456.72 L132.50,455.70 L141.88,455.70" fill="none" stroke="#2f5196" stroke-width="1.1"/>
<path d="M66.87,440.45 L66.87,448.14 M65.57,440.45 L68.17,440.45 M65.57,448.14 L68.17,448.14" stroke="#5a78b0" stroke-width="0.8" fill="none"/>
<path d="M76.25,446.86 L76.25,451.98 M74.95,446.86 L77.55,446.86 M74.95,451.98 L77.55,451.98" stroke="#5a78b0" stroke-width="0.8" fill="none"/>
<path d="M95.00,393.15 L95.00,397.00 M93.70,393.15 L96.30,393.15 M93.70,397.00 L96.30,397.00" stroke="#5a78b0" stroke-width="0.8" fill="none"/>
<path d="M104.38,399.18 L104.38,405.59 M103.08,399.18 L105.68,399.18 M103.08,405.59 L105.68,405.59" stroke="#5a78b0" stroke-width="0.8" fill="none"/>
<path d="M113.75,404.30 L113.75,413.28 M112.45,404.30 L115.05,404.30 M112.45,413.28 L115.05,413.28" stroke="#5a78b0" stroke-width="0.8" fill="none"/>
<circle cx="38.74" cy="434.42" r="1.8" fill="#2f5196"/>
<circle cx="48.12" cy="435.32" r="1.8" fill="#2f5196"/>
<circle cx="57.49" cy="435.32" r="1.8" fill="#2f5196"/>
<circle cx="66.87" cy="444.29" r="1.8" fill="#2f5196"/>
<circle cx="76.25" cy="449.42" r="1.8" fill="#2f5196"/>
<circle cx="85.62" cy="450.57" r="1.8" fill="#2f5196"/>
<circle cx="95.00" cy="395.08" r="1.8" fill="#2f5196"/>
<circle cx="104.38" cy="402.38" r="1.8" fill="#2f5196"/>
<circle cx="113.75" cy="408.79" r="1.8" fill="#2f5196"/>
<circle cx="123.13" cy="456.72" r="1.8" fill="#2f5196"/>
<circle cx="132.50" cy="455.70" r="1.8" fill="#2f5196"/>
<circle cx="141.88" cy="455.70" r="1.8" fill="#2f5196"/>
<text transform="translate(53.10,376.50) scale(1.015,1)" font-size="6.48" fill="#1e1e1e">Oligo</text>
<line x1="60.80" y1="381.00" x2="60.80" y2="421.30" stroke="#000" stroke-width="1.4" />
<path d="M57.70,419.30 L63.90,419.30 L60.80,427.30Z" fill="#000"/>
<text transform="translate(76.35,376.50) scale(1.018,1)" font-size="6.71" fill="#1e1e1e">FCCP</text>
<line x1="85.30" y1="381.00" x2="85.30" y2="411.60" stroke="#000" stroke-width="1.4" />
<path d="M82.20,409.60 L88.40,409.60 L85.30,417.60Z" fill="#000"/>
<text transform="translate(105.07,376.50) scale(1.013,1)" font-size="6.48" fill="#1e1e1e">Ant/Rot</text>
<line x1="116.30" y1="381.00" x2="116.30" y2="397.70" stroke="#000" stroke-width="1.4" />
<path d="M113.20,395.70 L119.40,395.70 L116.30,403.70Z" fill="#000"/>
<text transform="translate(14.40,441.87) rotate(-90) scale(0.711,1)" font-size="8.56" fill="#1e1e1e" style="stroke-width:0.3px">OCR (pmol/min)</text>
<text transform="translate(239.36,365.50) scale(1.020,1)" font-size="8.43" fill="#1e1e1e">AML3</text>
<line x1="189.60" y1="378.20" x2="189.60" y2="460.30" stroke="#222" stroke-width="1.3" />
<line x1="189.00" y1="459.80" x2="308.80" y2="459.80" stroke="#333" stroke-width="1.6" />
<line x1="186.40" y1="459.80" x2="189.60" y2="459.80" stroke="#333" stroke-width="1.0" />
<text transform="translate(178.75,462.00) scale(1.189,1)" font-size="6.29" fill="#1e1e1e">0</text>
<line x1="186.40" y1="439.98" x2="189.60" y2="439.98" stroke="#333" stroke-width="1.0" />
<text transform="translate(171.43,442.18) scale(1.093,1)" font-size="6.29" fill="#1e1e1e">100</text>
<line x1="186.40" y1="420.15" x2="189.60" y2="420.15" stroke="#333" stroke-width="1.0" />
<text transform="translate(171.61,422.35) scale(1.076,1)" font-size="6.29" fill="#1e1e1e">200</text>
<line x1="186.40" y1="400.32" x2="189.60" y2="400.32" stroke="#333" stroke-width="1.0" />
<text transform="translate(171.68,402.52) scale(1.069,1)" font-size="6.29" fill="#1e1e1e">300</text>
<line x1="186.40" y1="380.50" x2="189.60" y2="380.50" stroke="#333" stroke-width="1.0" />
<text transform="translate(171.78,382.70) scale(1.059,1)" font-size="6.29" fill="#1e1e1e">400</text>
<line x1="189.60" y1="459.80" x2="189.60" y2="462.30" stroke="#333" stroke-width="1.0" />
<text transform="translate(187.56,471.80) scale(1.146,1)" font-size="6.43" fill="#1e1e1e">0</text>
<line x1="219.40" y1="459.80" x2="219.40" y2="462.30" stroke="#333" stroke-width="1.0" />
<text transform="translate(215.50,471.80) scale(1.083,1)" font-size="6.43" fill="#1e1e1e">20</text>
<line x1="249.20" y1="459.80" x2="249.20" y2="462.30" stroke="#333" stroke-width="1.0" />
<text transform="translate(245.48,471.80) scale(1.057,1)" font-size="6.43" fill="#1e1e1e">40</text>
<line x1="279.00" y1="459.80" x2="279.00" y2="462.30" stroke="#333" stroke-width="1.0" />
<text transform="translate(275.10,471.80) scale(1.083,1)" font-size="6.43" fill="#1e1e1e">60</text>
<line x1="308.80" y1="459.80" x2="308.80" y2="462.30" stroke="#333" stroke-width="1.0" />
<text transform="translate(304.94,471.80) scale(1.078,1)" font-size="6.43" fill="#1e1e1e">80</text>
<path d="M191.09,451.87 L200.78,453.26 L210.46,453.46 L220.14,456.23 L229.83,455.84 L239.51,455.84 L249.20,445.33 L258.88,448.50 L268.57,448.90 L278.25,457.82 L287.94,457.82 L297.62,457.82" fill="none" stroke="#b8153f" stroke-width="1.1"/>
<path d="M191.09,450.28 L191.09,453.46 M189.79,450.28 L192.39,450.28 M189.79,453.46 L192.39,453.46" stroke="#c65070" stroke-width="0.8" fill="none"/>
<path d="M200.78,452.27 L200.78,454.25 M199.47,452.27 L202.08,452.27 M199.47,454.25 L202.08,454.25" stroke="#c65070" stroke-width="0.8" fill="none"/>
<path d="M210.46,452.46 L210.46,454.45 M209.16,452.46 L211.76,452.46 M209.16,454.45 L211.76,454.45" stroke="#c65070" stroke-width="0.8" fill="none"/>
<path d="M249.20,443.35 L249.20,447.31 M247.90,443.35 L250.50,443.35 M247.90,447.31 L250.50,447.31" stroke="#c65070" stroke-width="0.8" fill="none"/>
<path d="M258.88,446.52 L258.88,450.48 M257.58,446.52 L260.19,446.52 M257.58,450.48 L260.19,450.48" stroke="#c65070" stroke-width="0.8" fill="none"/>
<path d="M268.57,446.91 L268.57,450.88 M267.27,446.91 L269.87,446.91 M267.27,450.88 L269.87,450.88" stroke="#c65070" stroke-width="0.8" fill="none"/>
<path d="M191.09,453.77 L192.99,450.47 L189.19,450.47Z" fill="#b8153f"/>
<path d="M200.78,455.16 L202.68,451.86 L198.88,451.86Z" fill="#b8153f"/>
<path d="M210.46,455.36 L212.36,452.06 L208.56,452.06Z" fill="#b8153f"/>
<path d="M220.14,458.13 L222.04,454.83 L218.24,454.83Z" fill="#b8153f"/>
<path d="M229.83,457.74 L231.73,454.44 L227.93,454.44Z" fill="#b8153f"/>
<path d="M239.51,457.74 L241.41,454.44 L237.61,454.44Z" fill="#b8153f"/>
<path d="M249.20,447.23 L251.10,443.93 L247.30,443.93Z" fill="#b8153f"/>
<path d="M258.88,450.40 L260.78,447.10 L256.99,447.10Z" fill="#b8153f"/>
<path d="M268.57,450.80 L270.47,447.50 L266.67,447.50Z" fill="#b8153f"/>
<path d="M278.25,459.72 L280.15,456.42 L276.36,456.42Z" fill="#b8153f"/>
<path d="M287.94,459.72 L289.84,456.42 L286.04,456.42Z" fill="#b8153f"/>
<path d="M297.62,459.72 L299.52,456.42 L295.73,456.42Z" fill="#b8153f"/>
<path d="M191.09,451.47 L200.78,452.46 L210.46,452.86 L220.14,455.44 L229.83,455.44 L239.51,455.44 L249.20,443.94 L258.88,446.91 L268.57,447.91 L278.25,457.42 L287.94,457.42 L297.62,457.42" fill="none" stroke="#cf5d5f" stroke-width="1.1"/>
<path d="M191.09,449.89 L191.09,453.06 M189.79,449.89 L192.39,449.89 M189.79,453.06 L192.39,453.06" stroke="#d88080" stroke-width="0.8" fill="none"/>
<path d="M200.78,451.47 L200.78,453.46 M199.47,451.47 L202.08,451.47 M199.47,453.46 L202.08,453.46" stroke="#d88080" stroke-width="0.8" fill="none"/>
<path d="M210.46,451.87 L210.46,453.85 M209.16,451.87 L211.76,451.87 M209.16,453.85 L211.76,453.85" stroke="#d88080" stroke-width="0.8" fill="none"/>
<path d="M220.14,454.45 L220.14,456.43 M218.84,454.45 L221.44,454.45 M218.84,456.43 L221.44,456.43" stroke="#d88080" stroke-width="0.8" fill="none"/>
<path d="M229.83,454.45 L229.83,456.43 M228.53,454.45 L231.13,454.45 M228.53,456.43 L231.13,456.43" stroke="#d88080" stroke-width="0.8" fill="none"/>
<path d="M239.51,454.45 L239.51,456.43 M238.21,454.45 L240.81,454.45 M238.21,456.43 L240.81,456.43" stroke="#d88080" stroke-width="0.8" fill="none"/>
<path d="M249.20,434.03 L249.20,453.85 M247.90,434.03 L250.50,434.03 M247.90,453.85 L250.50,453.85" stroke="#d88080" stroke-width="0.8" fill="none"/>
<path d="M258.88,442.95 L258.88,450.88 M257.58,442.95 L260.19,442.95 M257.58,450.88 L260.19,450.88" stroke="#d88080" stroke-width="0.8" fill="none"/>
<path d="M268.57,444.93 L268.57,450.88 M267.27,444.93 L269.87,444.93 M267.27,450.88 L269.87,450.88" stroke="#d88080" stroke-width="0.8" fill="none"/>
<path d="M191.09,449.57 L192.99,452.87 L189.19,452.87Z" fill="#cf5d5f"/>
<path d="M200.78,450.56 L202.68,453.86 L198.88,453.86Z" fill="#cf5d5f"/>
<path d="M210.46,450.96 L212.36,454.26 L208.56,454.26Z" fill="#cf5d5f"/>
<path d="M220.14,453.54 L222.04,456.84 L218.24,456.84Z" fill="#cf5d5f"/>
<path d="M229.83,453.54 L231.73,456.84 L227.93,456.84Z" fill="#cf5d5f"/>
<path d="M239.51,453.54 L241.41,456.84 L237.61,456.84Z" fill="#cf5d5f"/>
<path d="M249.20,442.04 L251.10,445.34 L247.30,445.34Z" fill="#cf5d5f"/>
<path d="M258.88,445.01 L260.78,448.31 L256.99,448.31Z" fill="#cf5d5f"/>
<path d="M268.57,446.01 L270.47,449.31 L266.67,449.31Z" fill="#cf5d5f"/>
<path d="M278.25,455.52 L280.15,458.82 L276.36,458.82Z" fill="#cf5d5f"/>
<path d="M287.94,455.52 L289.84,458.82 L286.04,458.82Z" fill="#cf5d5f"/>
<path d="M297.62,455.52 L299.52,458.82 L295.73,458.82Z" fill="#cf5d5f"/>
<path d="M191.09,446.91 L200.78,448.30 L210.46,448.90 L220.14,455.84 L229.83,455.44 L239.51,455.44 L249.20,427.09 L258.88,435.42 L268.57,437.00 L278.25,456.83 L287.94,456.83 L297.62,456.83" fill="none" stroke="#df9382" stroke-width="1.1"/>
<path d="M191.09,444.93 L191.09,448.90 M189.79,444.93 L192.39,444.93 M189.79,448.90 L192.39,448.90" stroke="#e8b0a0" stroke-width="0.8" fill="none"/>
<path d="M200.78,446.72 L200.78,449.89 M199.47,446.72 L202.08,446.72 M199.47,449.89 L202.08,449.89" stroke="#e8b0a0" stroke-width="0.8" fill="none"/>
<path d="M210.46,447.31 L210.46,450.48 M209.16,447.31 L211.76,447.31 M209.16,450.48 L211.76,450.48" stroke="#e8b0a0" stroke-width="0.8" fill="none"/>
<path d="M220.14,454.84 L220.14,456.83 M218.84,454.84 L221.44,454.84 M218.84,456.83 L221.44,456.83" stroke="#e8b0a0" stroke-width="0.8" fill="none"/>
<path d="M229.83,454.45 L229.83,456.43 M228.53,454.45 L231.13,454.45 M228.53,456.43 L231.13,456.43" stroke="#e8b0a0" stroke-width="0.8" fill="none"/>
<path d="M239.51,454.45 L239.51,456.43 M238.21,454.45 L240.81,454.45 M238.21,456.43 L240.81,456.43" stroke="#e8b0a0" stroke-width="0.8" fill="none"/>
<path d="M249.20,421.14 L249.20,433.04 M247.90,421.14 L250.50,421.14 M247.90,433.04 L250.50,433.04" stroke="#e8b0a0" stroke-width="0.8" fill="none"/>
<path d="M258.88,433.43 L258.88,437.40 M257.58,433.43 L260.19,433.43 M257.58,437.40 L260.19,437.40" stroke="#e8b0a0" stroke-width="0.8" fill="none"/>
<path d="M268.57,435.02 L268.57,438.98 M267.27,435.02 L269.87,435.02 M267.27,438.98 L269.87,438.98" stroke="#e8b0a0" stroke-width="0.8" fill="none"/>
<rect x="189.29" y="445.11" width="3.6" height="3.6" fill="#df9382"/>
<rect x="198.97" y="446.50" width="3.6" height="3.6" fill="#df9382"/>
<rect x="208.66" y="447.10" width="3.6" height="3.6" fill="#df9382"/>
<rect x="218.34" y="454.04" width="3.6" height="3.6" fill="#df9382"/>
<rect x="228.03" y="453.64" width="3.6" height="3.6" fill="#df9382"/>
<rect x="237.71" y="453.64" width="3.6" height="3.6" fill="#df9382"/>
<rect x="247.40" y="425.29" width="3.6" height="3.6" fill="#df9382"/>
<rect x="257.08" y="433.62" width="3.6" height="3.6" fill="#df9382"/>
<rect x="266.77" y="435.20" width="3.6" height="3.6" fill="#df9382"/>
<rect x="276.45" y="455.03" width="3.6" height="3.6" fill="#df9382"/>
<rect x="286.14" y="455.03" width="3.6" height="3.6" fill="#df9382"/>
<rect x="295.82" y="455.03" width="3.6" height="3.6" fill="#df9382"/>
<path d="M191.09,442.95 L200.78,444.34 L210.46,444.34 L220.14,454.45 L229.83,454.45 L239.51,454.45 L249.20,404.88 L258.88,421.14 L268.57,425.70 L278.25,453.85 L287.94,453.85 L297.62,453.85" fill="none" stroke="#2f5196" stroke-width="1.1"/>
<path d="M191.09,440.97 L191.09,444.93 M189.79,440.97 L192.39,440.97 M189.79,444.93 L192.39,444.93" stroke="#5a78b0" stroke-width="0.8" fill="none"/>
<path d="M200.78,442.35 L200.78,446.32 M199.47,442.35 L202.08,442.35 M199.47,446.32 L202.08,446.32" stroke="#5a78b0" stroke-width="0.8" fill="none"/>
<path d="M210.46,442.35 L210.46,446.32 M209.16,442.35 L211.76,442.35 M209.16,446.32 L211.76,446.32" stroke="#5a78b0" stroke-width="0.8" fill="none"/>
<path d="M220.14,452.46 L220.14,456.43 M218.84,452.46 L221.44,452.46 M218.84,456.43 L221.44,456.43" stroke="#5a78b0" stroke-width="0.8" fill="none"/>
<path d="M229.83,452.07 L229.83,456.83 M228.53,452.07 L231.13,452.07 M228.53,456.83 L231.13,456.83" stroke="#5a78b0" stroke-width="0.8" fill="none"/>
<path d="M239.51,452.46 L239.51,456.43 M238.21,452.46 L240.81,452.46 M238.21,456.43 L240.81,456.43" stroke="#5a78b0" stroke-width="0.8" fill="none"/>
<path d="M249.20,402.90 L249.20,406.87 M247.90,402.90 L250.50,402.90 M247.90,406.87 L250.50,406.87" stroke="#5a78b0" stroke-width="0.8" fill="none"/>
<path d="M278.25,451.87 L278.25,455.84 M276.95,451.87 L279.56,451.87 M276.95,455.84 L279.56,455.84" stroke="#5a78b0" stroke-width="0.8" fill="none"/>
<path d="M287.94,451.47 L287.94,456.23 M286.64,451.47 L289.24,451.47 M286.64,456.23 L289.24,456.23" stroke="#5a78b0" stroke-width="0.8" fill="none"/>
<path d="M297.62,451.47 L297.62,456.23 M296.32,451.47 L298.93,451.47 M296.32,456.23 L298.93,456.23" stroke="#5a78b0" stroke-width="0.8" fill="none"/>
<circle cx="191.09" cy="442.95" r="1.8" fill="#2f5196"/>
<circle cx="200.78" cy="444.34" r="1.8" fill="#2f5196"/>
<circle cx="210.46" cy="444.34" r="1.8" fill="#2f5196"/>
<circle cx="220.14" cy="454.45" r="1.8" fill="#2f5196"/>
<circle cx="229.83" cy="454.45" r="1.8" fill="#2f5196"/>
<circle cx="239.51" cy="454.45" r="1.8" fill="#2f5196"/>
<circle cx="249.20" cy="404.88" r="1.8" fill="#2f5196"/>
<circle cx="258.88" cy="421.14" r="1.8" fill="#2f5196"/>
<circle cx="268.57" cy="425.70" r="1.8" fill="#2f5196"/>
<circle cx="278.25" cy="453.85" r="1.8" fill="#2f5196"/>
<circle cx="287.94" cy="453.85" r="1.8" fill="#2f5196"/>
<circle cx="297.62" cy="453.85" r="1.8" fill="#2f5196"/>
<text transform="translate(230.45,483.32) scale(0.766,1)" font-size="8.02" fill="#1e1e1e" style="stroke-width:0.35px">Time (minutes)</text>
<text transform="translate(396.26,365.50) scale(1.038,1)" font-size="8.26" fill="#1e1e1e">AML5</text>
<line x1="345.10" y1="376.50" x2="345.10" y2="460.30" stroke="#222" stroke-width="1.3" />
<line x1="344.50" y1="459.80" x2="466.50" y2="459.80" stroke="#333" stroke-width="1.6" />
<line x1="341.90" y1="459.80" x2="345.10" y2="459.80" stroke="#333" stroke-width="1.0" />
<text transform="translate(335.09,462.10) scale(1.185,1)" font-size="6.57" fill="#1e1e1e">0</text>
<line x1="341.90" y1="439.55" x2="345.10" y2="439.55" stroke="#333" stroke-width="1.0" />
<text transform="translate(331.41,441.85) scale(1.093,1)" font-size="6.57" fill="#1e1e1e">50</text>
<line x1="341.90" y1="419.30" x2="345.10" y2="419.30" stroke="#333" stroke-width="1.0" />
<text transform="translate(327.46,421.60) scale(1.090,1)" font-size="6.57" fill="#1e1e1e">100</text>
<line x1="341.90" y1="399.05" x2="345.10" y2="399.05" stroke="#333" stroke-width="1.0" />
<text transform="translate(327.46,401.35) scale(1.090,1)" font-size="6.57" fill="#1e1e1e">150</text>
<line x1="341.90" y1="378.80" x2="345.10" y2="378.80" stroke="#333" stroke-width="1.0" />
<text transform="translate(327.65,381.10) scale(1.072,1)" font-size="6.57" fill="#1e1e1e">200</text>
<line x1="345.10" y1="459.80" x2="345.10" y2="462.30" stroke="#333" stroke-width="1.0" />
<text transform="translate(343.06,471.80) scale(1.146,1)" font-size="6.43" fill="#1e1e1e">0</text>
<line x1="375.40" y1="459.80" x2="375.40" y2="462.30" stroke="#333" stroke-width="1.0" />
<text transform="translate(371.50,471.80) scale(1.083,1)" font-size="6.43" fill="#1e1e1e">20</text>
<line x1="405.70" y1="459.80" x2="405.70" y2="462.30" stroke="#333" stroke-width="1.0" />
<text transform="translate(401.98,471.80) scale(1.057,1)" font-size="6.43" fill="#1e1e1e">40</text>
<line x1="436.00" y1="459.80" x2="436.00" y2="462.30" stroke="#333" stroke-width="1.0" />
<text transform="translate(432.10,471.80) scale(1.083,1)" font-size="6.43" fill="#1e1e1e">60</text>
<line x1="466.30" y1="459.80" x2="466.30" y2="462.30" stroke="#333" stroke-width="1.0" />
<text transform="translate(462.44,471.80) scale(1.078,1)" font-size="6.43" fill="#1e1e1e">80</text>
<path d="M346.62,446.84 L356.46,449.68 L366.31,449.68 L376.16,452.92 L386.00,452.92 L395.85,452.92 L405.70,434.29 L415.55,440.76 L425.40,440.36 L435.24,455.75 L445.09,455.75 L454.94,455.75" fill="none" stroke="#b8153f" stroke-width="1.1"/>
<path d="M346.62,444.82 L346.62,448.87 M345.31,444.82 L347.92,444.82 M345.31,448.87 L347.92,448.87" stroke="#c65070" stroke-width="0.8" fill="none"/>
<path d="M356.46,447.65 L356.46,451.70 M355.16,447.65 L357.76,447.65 M355.16,451.70 L357.76,451.70" stroke="#c65070" stroke-width="0.8" fill="none"/>
<path d="M366.31,447.65 L366.31,451.70 M365.01,447.65 L367.61,447.65 M365.01,451.70 L367.61,451.70" stroke="#c65070" stroke-width="0.8" fill="none"/>
<path d="M376.16,450.89 L376.16,454.94 M374.86,450.89 L377.46,450.89 M374.86,454.94 L377.46,454.94" stroke="#c65070" stroke-width="0.8" fill="none"/>
<path d="M386.00,450.89 L386.00,454.94 M384.70,450.89 L387.31,450.89 M384.70,454.94 L387.31,454.94" stroke="#c65070" stroke-width="0.8" fill="none"/>
<path d="M395.85,450.89 L395.85,454.94 M394.55,450.89 L397.15,450.89 M394.55,454.94 L397.15,454.94" stroke="#c65070" stroke-width="0.8" fill="none"/>
<path d="M405.70,428.21 L405.70,440.36 M404.40,428.21 L407.00,428.21 M404.40,440.36 L407.00,440.36" stroke="#c65070" stroke-width="0.8" fill="none"/>
<path d="M415.55,437.52 L415.55,444.00 M414.25,437.52 L416.85,437.52 M414.25,444.00 L416.85,444.00" stroke="#c65070" stroke-width="0.8" fill="none"/>
<path d="M425.40,437.12 L425.40,443.60 M424.10,437.12 L426.70,437.12 M424.10,443.60 L426.70,443.60" stroke="#c65070" stroke-width="0.8" fill="none"/>
<path d="M346.62,448.74 L348.51,445.44 L344.72,445.44Z" fill="#b8153f"/>
<path d="M356.46,451.57 L358.36,448.28 L354.56,448.28Z" fill="#b8153f"/>
<path d="M366.31,451.57 L368.21,448.28 L364.41,448.28Z" fill="#b8153f"/>
<path d="M376.16,454.81 L378.06,451.52 L374.26,451.52Z" fill="#b8153f"/>
<path d="M386.00,454.81 L387.90,451.52 L384.11,451.52Z" fill="#b8153f"/>
<path d="M395.85,454.81 L397.75,451.52 L393.95,451.52Z" fill="#b8153f"/>
<path d="M405.70,436.19 L407.60,432.89 L403.80,432.89Z" fill="#b8153f"/>
<path d="M415.55,442.66 L417.45,439.37 L413.65,439.37Z" fill="#b8153f"/>
<path d="M425.40,442.26 L427.30,438.96 L423.50,438.96Z" fill="#b8153f"/>
<path d="M435.24,457.65 L437.14,454.35 L433.34,454.35Z" fill="#b8153f"/>
<path d="M445.09,457.65 L446.99,454.35 L443.19,454.35Z" fill="#b8153f"/>
<path d="M454.94,457.65 L456.84,454.35 L453.04,454.35Z" fill="#b8153f"/>
<path d="M346.62,445.62 L356.46,448.46 L366.31,448.87 L376.16,452.51 L386.00,452.51 L395.85,452.51 L405.70,427.40 L415.55,436.31 L425.40,438.74 L435.24,454.94 L445.09,454.94 L454.94,454.94" fill="none" stroke="#cf5d5f" stroke-width="1.1"/>
<path d="M346.62,443.60 L346.62,447.65 M345.31,443.60 L347.92,443.60 M345.31,447.65 L347.92,447.65" stroke="#d88080" stroke-width="0.8" fill="none"/>
<path d="M356.46,446.44 L356.46,450.49 M355.16,446.44 L357.76,446.44 M355.16,450.49 L357.76,450.49" stroke="#d88080" stroke-width="0.8" fill="none"/>
<path d="M366.31,446.84 L366.31,450.89 M365.01,446.84 L367.61,446.84 M365.01,450.89 L367.61,450.89" stroke="#d88080" stroke-width="0.8" fill="none"/>
<path d="M376.16,450.49 L376.16,454.53 M374.86,450.49 L377.46,450.49 M374.86,454.53 L377.46,454.53" stroke="#d88080" stroke-width="0.8" fill="none"/>
<path d="M386.00,450.49 L386.00,454.53 M384.70,450.49 L387.31,450.49 M384.70,454.53 L387.31,454.53" stroke="#d88080" stroke-width="0.8" fill="none"/>
<path d="M395.85,450.49 L395.85,454.53 M394.55,450.49 L397.15,450.49 M394.55,454.53 L397.15,454.53" stroke="#d88080" stroke-width="0.8" fill="none"/>
<path d="M405.70,405.12 L405.70,449.67 M404.40,405.12 L407.00,405.12 M404.40,449.67 L407.00,449.67" stroke="#d88080" stroke-width="0.8" fill="none"/>
<path d="M415.55,424.16 L415.55,448.46 M414.25,424.16 L416.85,424.16 M414.25,448.46 L416.85,448.46" stroke="#d88080" stroke-width="0.8" fill="none"/>
<path d="M425.40,430.64 L425.40,446.84 M424.10,430.64 L426.70,430.64 M424.10,446.84 L426.70,446.84" stroke="#d88080" stroke-width="0.8" fill="none"/>
<path d="M435.24,452.92 L435.24,456.96 M433.94,452.92 L436.54,452.92 M433.94,456.96 L436.54,456.96" stroke="#d88080" stroke-width="0.8" fill="none"/>
<path d="M445.09,452.92 L445.09,456.96 M443.79,452.92 L446.39,452.92 M443.79,456.96 L446.39,456.96" stroke="#d88080" stroke-width="0.8" fill="none"/>
<path d="M454.94,452.92 L454.94,456.96 M453.64,452.92 L456.24,452.92 M453.64,456.96 L456.24,456.96" stroke="#d88080" stroke-width="0.8" fill="none"/>
<path d="M346.62,443.73 L348.51,447.02 L344.72,447.02Z" fill="#cf5d5f"/>
<path d="M356.46,446.56 L358.36,449.86 L354.56,449.86Z" fill="#cf5d5f"/>
<path d="M366.31,446.97 L368.21,450.26 L364.41,450.26Z" fill="#cf5d5f"/>
<path d="M376.16,450.61 L378.06,453.91 L374.26,453.91Z" fill="#cf5d5f"/>
<path d="M386.00,450.61 L387.90,453.91 L384.11,453.91Z" fill="#cf5d5f"/>
<path d="M395.85,450.61 L397.75,453.91 L393.95,453.91Z" fill="#cf5d5f"/>
<path d="M405.70,425.50 L407.60,428.80 L403.80,428.80Z" fill="#cf5d5f"/>
<path d="M415.55,434.41 L417.45,437.71 L413.65,437.71Z" fill="#cf5d5f"/>
<path d="M425.40,436.84 L427.30,440.14 L423.50,440.14Z" fill="#cf5d5f"/>
<path d="M435.24,453.04 L437.14,456.34 L433.34,456.34Z" fill="#cf5d5f"/>
<path d="M445.09,453.04 L446.99,456.34 L443.19,456.34Z" fill="#cf5d5f"/>
<path d="M454.94,453.04 L456.84,456.34 L453.04,456.34Z" fill="#cf5d5f"/>
<path d="M346.62,444.81 L356.46,448.87 L366.31,449.68 L376.16,452.92 L386.00,452.92 L395.85,452.92 L405.70,428.21 L415.55,435.50 L425.40,437.53 L435.24,453.73 L445.09,453.73 L454.94,453.73" fill="none" stroke="#df9382" stroke-width="1.1"/>
<path d="M346.62,442.79 L346.62,446.84 M345.31,442.79 L347.92,442.79 M345.31,446.84 L347.92,446.84" stroke="#e8b0a0" stroke-width="0.8" fill="none"/>
<path d="M356.46,446.84 L356.46,450.89 M355.16,446.84 L357.76,446.84 M355.16,450.89 L357.76,450.89" stroke="#e8b0a0" stroke-width="0.8" fill="none"/>
<path d="M366.31,447.65 L366.31,451.70 M365.01,447.65 L367.61,447.65 M365.01,451.70 L367.61,451.70" stroke="#e8b0a0" stroke-width="0.8" fill="none"/>
<path d="M376.16,450.89 L376.16,454.94 M374.86,450.89 L377.46,450.89 M374.86,454.94 L377.46,454.94" stroke="#e8b0a0" stroke-width="0.8" fill="none"/>
<path d="M386.00,450.89 L386.00,454.94 M384.70,450.89 L387.31,450.89 M384.70,454.94 L387.31,454.94" stroke="#e8b0a0" stroke-width="0.8" fill="none"/>
<path d="M395.85,450.89 L395.85,454.94 M394.55,450.89 L397.15,450.89 M394.55,454.94 L397.15,454.94" stroke="#e8b0a0" stroke-width="0.8" fill="none"/>
<path d="M405.70,420.11 L405.70,436.31 M404.40,420.11 L407.00,420.11 M404.40,436.31 L407.00,436.31" stroke="#e8b0a0" stroke-width="0.8" fill="none"/>
<path d="M415.55,431.45 L415.55,439.55 M414.25,431.45 L416.85,431.45 M414.25,439.55 L416.85,439.55" stroke="#e8b0a0" stroke-width="0.8" fill="none"/>
<path d="M425.40,433.48 L425.40,441.58 M424.10,433.48 L426.70,433.48 M424.10,441.58 L426.70,441.58" stroke="#e8b0a0" stroke-width="0.8" fill="none"/>
<path d="M435.24,451.70 L435.24,455.75 M433.94,451.70 L436.54,451.70 M433.94,455.75 L436.54,455.75" stroke="#e8b0a0" stroke-width="0.8" fill="none"/>
<path d="M445.09,451.70 L445.09,455.75 M443.79,451.70 L446.39,451.70 M443.79,455.75 L446.39,455.75" stroke="#e8b0a0" stroke-width="0.8" fill="none"/>
<path d="M454.94,451.70 L454.94,455.75 M453.64,451.70 L456.24,451.70 M453.64,455.75 L456.24,455.75" stroke="#e8b0a0" stroke-width="0.8" fill="none"/>
<rect x="344.81" y="443.01" width="3.6" height="3.6" fill="#df9382"/>
<rect x="354.66" y="447.06" width="3.6" height="3.6" fill="#df9382"/>
<rect x="364.51" y="447.88" width="3.6" height="3.6" fill="#df9382"/>
<rect x="374.36" y="451.12" width="3.6" height="3.6" fill="#df9382"/>
<rect x="384.20" y="451.12" width="3.6" height="3.6" fill="#df9382"/>
<rect x="394.05" y="451.12" width="3.6" height="3.6" fill="#df9382"/>
<rect x="403.90" y="426.41" width="3.6" height="3.6" fill="#df9382"/>
<rect x="413.75" y="433.70" width="3.6" height="3.6" fill="#df9382"/>
<rect x="423.60" y="435.73" width="3.6" height="3.6" fill="#df9382"/>
<rect x="433.44" y="451.93" width="3.6" height="3.6" fill="#df9382"/>
<rect x="443.29" y="451.93" width="3.6" height="3.6" fill="#df9382"/>
<rect x="453.14" y="451.93" width="3.6" height="3.6" fill="#df9382"/>
<path d="M346.62,438.74 L356.46,441.57 L366.31,441.98 L376.16,451.30 L386.00,452.11 L395.85,452.11 L405.70,397.02 L415.55,416.06 L425.40,423.35 L435.24,450.89 L445.09,449.68 L454.94,449.68" fill="none" stroke="#2f5196" stroke-width="1.1"/>
<path d="M346.62,435.91 L346.62,441.57 M345.31,435.91 L347.92,435.91 M345.31,441.57 L347.92,441.57" stroke="#5a78b0" stroke-width="0.8" fill="none"/>
<path d="M356.46,438.74 L356.46,444.41 M355.16,438.74 L357.76,438.74 M355.16,444.41 L357.76,444.41" stroke="#5a78b0" stroke-width="0.8" fill="none"/>
<path d="M366.31,439.15 L366.31,444.81 M365.01,439.15 L367.61,439.15 M365.01,444.81 L367.61,444.81" stroke="#5a78b0" stroke-width="0.8" fill="none"/>
<path d="M376.16,448.46 L376.16,454.13 M374.86,448.46 L377.46,448.46 M374.86,454.13 L377.46,454.13" stroke="#5a78b0" stroke-width="0.8" fill="none"/>
<path d="M386.00,449.27 L386.00,454.94 M384.70,449.27 L387.31,449.27 M384.70,454.94 L387.31,454.94" stroke="#5a78b0" stroke-width="0.8" fill="none"/>
<path d="M395.85,449.27 L395.85,454.94 M394.55,449.27 L397.15,449.27 M394.55,454.94 L397.15,454.94" stroke="#5a78b0" stroke-width="0.8" fill="none"/>
<path d="M405.70,394.19 L405.70,399.86 M404.40,394.19 L407.00,394.19 M404.40,399.86 L407.00,399.86" stroke="#5a78b0" stroke-width="0.8" fill="none"/>
<path d="M425.40,421.33 L425.40,425.38 M424.10,421.33 L426.70,421.33 M424.10,425.38 L426.70,425.38" stroke="#5a78b0" stroke-width="0.8" fill="none"/>
<path d="M435.24,446.84 L435.24,454.94 M433.94,446.84 L436.54,446.84 M433.94,454.94 L436.54,454.94" stroke="#5a78b0" stroke-width="0.8" fill="none"/>
<path d="M445.09,445.62 L445.09,453.73 M443.79,445.62 L446.39,445.62 M443.79,453.73 L446.39,453.73" stroke="#5a78b0" stroke-width="0.8" fill="none"/>
<path d="M454.94,445.62 L454.94,453.73 M453.64,445.62 L456.24,445.62 M453.64,453.73 L456.24,453.73" stroke="#5a78b0" stroke-width="0.8" fill="none"/>
<circle cx="346.62" cy="438.74" r="1.8" fill="#2f5196"/>
<circle cx="356.46" cy="441.57" r="1.8" fill="#2f5196"/>
<circle cx="366.31" cy="441.98" r="1.8" fill="#2f5196"/>
<circle cx="376.16" cy="451.30" r="1.8" fill="#2f5196"/>
<circle cx="386.00" cy="452.11" r="1.8" fill="#2f5196"/>
<circle cx="395.85" cy="452.11" r="1.8" fill="#2f5196"/>
<circle cx="405.70" cy="397.02" r="1.8" fill="#2f5196"/>
<circle cx="415.55" cy="416.06" r="1.8" fill="#2f5196"/>
<circle cx="425.40" cy="423.35" r="1.8" fill="#2f5196"/>
<circle cx="435.24" cy="450.89" r="1.8" fill="#2f5196"/>
<circle cx="445.09" cy="449.68" r="1.8" fill="#2f5196"/>
<circle cx="454.94" cy="449.68" r="1.8" fill="#2f5196"/>
<line x1="472.90" y1="379.20" x2="481.90" y2="379.20" stroke="#2f5196" stroke-width="1.0" />
<circle cx="477.30" cy="379.20" r="1.8" fill="#2f5196"/>
<text transform="translate(485.07,381.50) scale(0.962,1)" font-size="6.48" fill="#1e1e1e">Vehicle</text>
<line x1="472.90" y1="389.80" x2="481.90" y2="389.80" stroke="#df9382" stroke-width="1.0" />
<rect x="475.50" y="388.00" width="3.6" height="3.6" fill="#df9382"/>
<text transform="translate(485.07,391.90) scale(1.028,1)" font-size="6.43" fill="#1e1e1e">AQ 5μM</text>
<line x1="472.90" y1="400.60" x2="481.90" y2="400.60" stroke="#cf5d5f" stroke-width="1.0" />
<path d="M477.30,398.70 L479.20,402.00 L475.40,402.00Z" fill="#cf5d5f"/>
<text transform="translate(485.07,402.90) scale(0.983,1)" font-size="6.71" fill="#1e1e1e">AQ10μM</text>
<line x1="472.90" y1="411.00" x2="481.90" y2="411.00" stroke="#b8153f" stroke-width="1.0" />
<path d="M477.30,412.90 L479.20,409.60 L475.40,409.60Z" fill="#b8153f"/>
<text transform="translate(485.07,413.00) scale(1.026,1)" font-size="6.43" fill="#1e1e1e">AQ 20μM</text>
</svg>
</body></html>
